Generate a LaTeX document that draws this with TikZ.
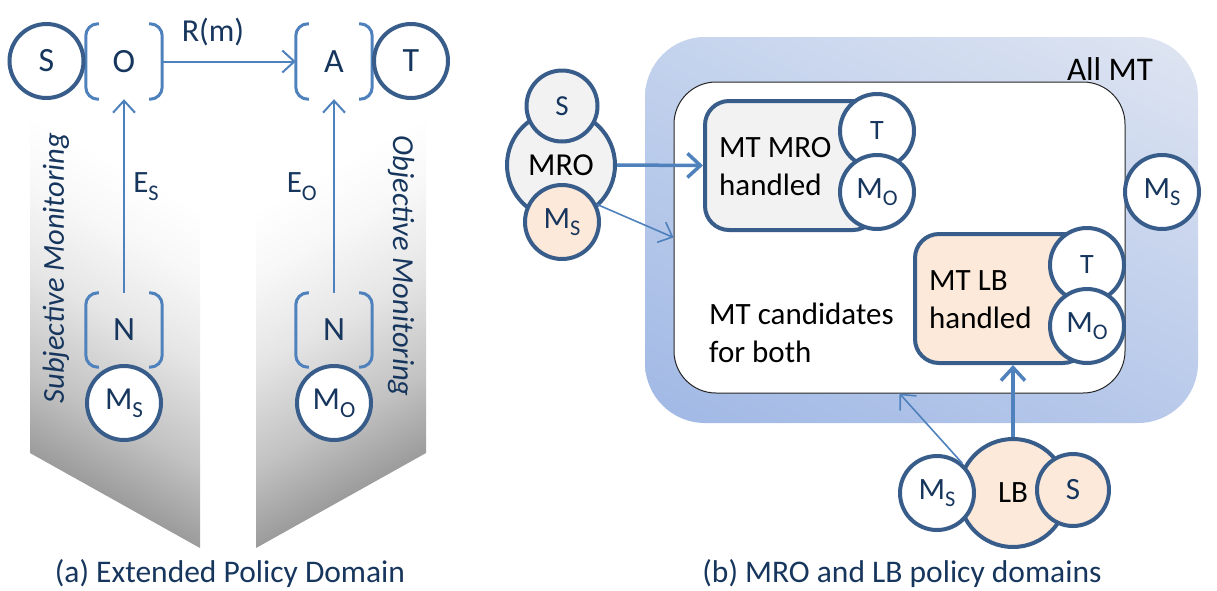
\documentclass[tikz,border=0pt]{standalone}
\usepackage{fontspec}
\setmainfont{Carlito}
\usepackage{graphicx}
\usetikzlibrary{arrows.meta,shadings}

\definecolor{navy}{RGB}{23,54,93}
\definecolor{ringblue}{RGB}{56,93,138}
\definecolor{lineblue}{RGB}{79,129,189}
\definecolor{peach}{RGB}{253,233,217}
\definecolor{pale}{RGB}{242,242,242}
\definecolor{domainlow}{RGB}{160,184,229}
\definecolor{domainhigh}{RGB}{223,229,242}
\definecolor{domainmidA}{RGB}{196,211,237}
\definecolor{domainmidB}{RGB}{184,201,234}

\newcommand\fs[1]{\fontsize{#1}{#1}\selectfont}
\newcommand\sub[1]{\raisebox{-0.25em}{\scalebox{0.72}{#1}}}

% grey fade for the two monitoring panels (path spans 25bp..75bp)
\pgfdeclareverticalshading{panelfade}{100bp}{%
  color(0bp)=(black!42); color(25bp)=(black!42); color(36bp)=(black!24);
  color(48bp)=(black!10); color(58bp)=(black!3); color(66bp)=(white);
  color(100bp)=(white)}

% two side brackets around a slot node
\newcommand\slotbrackets[1]{%
  \draw[brk] ([xshift=13pt]#1.north west) -- (#1.north west) -- (#1.south west) -- ([xshift=13pt]#1.south west);
  \draw[brk] ([xshift=-13pt]#1.north east) -- (#1.north east) -- (#1.south east) -- ([xshift=-13pt]#1.south east);}

\begin{document}
\begin{tikzpicture}[x=1pt,y=-1pt,
  ring/.style={circle, draw=ringblue, line width=4pt, fill=white, inner sep=0pt,
               minimum size=74pt, text=navy, font=\fs{32}},
  brk/.style={draw=lineblue, line width=3pt, rounded corners=12pt},
  slot/.style={minimum width=76pt, minimum height=75pt, inner sep=0pt, text=navy, font=\fs{34}},
  thinarrow/.style={draw=lineblue, line width=2pt, -{Straight Barb[length=12pt,width=22pt]}},
  thickarrow/.style={draw=lineblue, line width=3.5pt, -{Straight Barb[length=13pt,width=24pt]}},
  domainbox/.style={draw=ringblue, line width=4pt, rounded corners=24pt, inner sep=0pt,
                    minimum width=172pt, minimum height=129pt},
  boxtext/.style={anchor=west, align=left, inner sep=0pt, font=\fontsize{31}{38}\selectfont},
  caption/.style={text=navy, font=\fs{31.5}},
]
\useasboundingbox (0,0) rectangle (1217,590);

% ---------- (a) extended policy domain ----------
\shade[shading=panelfade, shading angle=-29] (30,52) -- (200,147) -- (200,548) -- (30,453) -- cycle;
\shade[shading=panelfade, shading angle=29] (256,147) -- (426,52) -- (426,453) -- (256,548) -- cycle;

\node[rotate=90, text=navy, font=\fs{30.5}\itshape] (subj) at (56,268) {Subjective Monitoring};
\node[rotate=-90, text=navy, font=\fs{30.5}\itshape] (obj) at (401,266) {Objective Monitoring};

\node[slot] (O) at (124,61.5) {O};
\node[slot] (A) at (334,61.5) {A};
\node[slot, minimum height=74pt] (NS) at (124,330) {N};
\node[slot, minimum height=74pt] (NO) at (334,330) {N};
\slotbrackets{O}
\slotbrackets{A}
\slotbrackets{NS}
\slotbrackets{NO}

\node[ring, font=\fs{34}] (S) at (46.5,61) {S};
\node[ring, font=\fs{34}] (T) at (411,61) {T};
\node[ring] (MS) at (124,403) {M\sub{S}};
\node[ring] (MO) at (334,403) {M\sub{O}};

\draw[thinarrow] (O.east) -- (A.west) node[pos=0.38, above=11pt, text=navy, font=\fs{32}] (rm) {R(m)};
\draw[thinarrow] (NS.north) -- (O.south) node[pos=0.55, right=5pt, text=navy, font=\fs{31}] (es) {E\sub{S}};
\draw[thinarrow] (NO.north) -- (A.south) node[pos=0.55, left=13pt, text=navy, font=\fs{31}] (eo) {E\sub{O}};

\node[caption] (capa) at (230,574) {(a) Extended Policy Domain};

% ---------- (b) MRO and LB policy domains ----------
\shade[rounded corners=60pt, lower left=domainlow, upper right=domainhigh,
       upper left=domainmidA, lower right=domainmidB] (645,37) rectangle (1198,423);
\node[draw=black!85, line width=1pt, fill=white, rounded corners=42pt, inner sep=0pt,
      minimum width=451pt, minimum height=311pt] (cand) at (899.5,237.5) {};
\node[font=\fs{33}] (allmt) at (1110,69) {All MT};
\node[boxtext] (candtext) at (709,333) {MT candidates\\for both};

% MRO handled
\node[domainbox, fill=pale] (mroBox) at (791,165.5) {};
\node[boxtext] (mroText) at (719,167) {MT MRO\\handled};
\node[ring, font=\fs{28}] (mroT) at (877,131) {T};
\node[ring, font=\fs{31}] (mroMO) at (877,192) {M\sub{O}};

% LB handled
\node[domainbox, fill=peach] (lbBox) at (1001,298.5) {};
\node[boxtext] (lbText) at (929,300) {MT LB\\handled};
\node[ring, font=\fs{28}] (lbT) at (1087,265) {T};
\node[ring, font=\fs{31}] (lbMO) at (1087,326) {M\sub{O}};

\node[ring, font=\fs{31}] (outMS) at (1162,192) {M\sub{S}};

% MRO cluster
\node[ring, fill=pale, minimum size=108pt, text=black, font=\fs{32}] (mro) at (561,165) {MRO};
\node[ring, fill=pale, minimum size=71pt, font=\fs{29}] (mroS) at (562,106) {S};
\node[ring, fill=peach, font=\fs{31}] (mroMS) at (562,222) {M\sub{S}};

% LB cluster
\node[ring, fill=peach, minimum size=108pt, text=black, font=\fs{31}] (lb) at (1013,493) {LB};
\node[ring, font=\fs{31}] (lbMS) at (937,493) {M\sub{S}};
\node[ring, fill=peach, minimum size=72pt, font=\fs{31}] (lbS) at (1073,490) {S};

\draw[thickarrow] (mro.east) -- (mroBox.west);
\draw[thinarrow, line width=1.6pt] (mroMS.27) -- (cand.west);
\draw[thickarrow] (lb.north) -- (lb.north |- lbBox.south);
\draw[thinarrow, line width=1.6pt] (lbMS.49) -- (cand.south);

\node[caption] (capb) at (902,574) {(b) MRO and LB policy domains};
\end{tikzpicture}
\end{document}
